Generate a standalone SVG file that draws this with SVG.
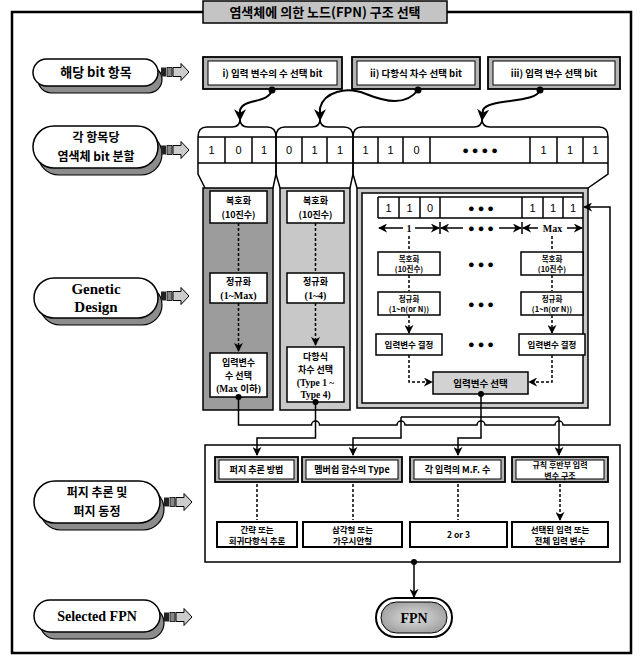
<svg xmlns="http://www.w3.org/2000/svg" width="640" height="657" viewBox="0 0 640 657">
<style>
.k{font-family:"Noto Sans CJK KR","Noto Sans",sans-serif;font-weight:bold;text-anchor:middle;fill:#000}
.s{font-family:"Liberation Serif","Noto Sans CJK KR",serif;font-weight:bold;text-anchor:middle;fill:#000}
.n{font-family:"Liberation Sans",Arial,sans-serif;text-anchor:middle;font-size:11px;fill:#000}
.ln{fill:none;stroke:#000;stroke-width:1.5}
.cv{fill:none;stroke:#000;stroke-width:2}
.dash{fill:none;stroke:#000;stroke-width:1.5;stroke-dasharray:3,2}
.box{fill:#fff;stroke:#000;stroke-width:1.5}
.pill{fill:#fff;stroke:#000;stroke-width:1.5}
.shd{fill:#8c8c8c;stroke:#000;stroke-width:1.2}
.gb{fill:#b4b4b4;stroke:#000;stroke-width:1.8}
.wb{fill:#fff;stroke:#000;stroke-width:1}
.dot{fill:#000}
</style>
<defs>
<marker id="ah" markerUnits="userSpaceOnUse" markerWidth="9" markerHeight="9" viewBox="0 0 10 10" refX="9" refY="5" orient="auto"><path d="M0,0 L10,5 L0,10 L3,5 z" fill="#000"/></marker>
<marker id="ahb" markerUnits="userSpaceOnUse" markerWidth="12" markerHeight="12" viewBox="0 0 10 10" refX="9" refY="5" orient="auto"><path d="M0,0 L10,5 L0,10 L3,5 z" fill="#000"/></marker>
<radialGradient id="fpng" cx="0.5" cy="0.5" r="0.6"><stop offset="0" stop-color="#e0e0e0"/><stop offset="1" stop-color="#9a9a9a"/></radialGradient>
<g id="parr">
<rect x="0" y="-4.5" width="5" height="9" fill="#222"/>
<rect x="6" y="-4.5" width="5" height="9" fill="#888" stroke="#000" stroke-width="0.8"/>
<polygon points="12,-4.5 20,-4.5 20,-8.5 28,0 20,8.5 20,4.5 12,4.5" fill="#ccc" stroke="#000" stroke-width="1"/>
</g>
</defs>
<rect width="640" height="657" fill="#fff"/>

<g id="frame">
<path d="M203,12 H12 V653 H631 V12 H447" fill="none" stroke="#000" stroke-width="2.5"/>
</g>
<g id="title">
<rect x="203" y="1" width="244" height="22" fill="#c4c4c4" stroke="#000" stroke-width="1.5"/>
<text class="k" x="325" y="17" font-size="13">염색체에 의한 노드(FPN) 구조 선택</text>
</g>

<g id="label1">
<rect class="shd" x="38" y="66" width="124" height="27" rx="13.5"/>
<rect class="pill" x="33" y="59" width="125" height="27" rx="13.5"/>
<text class="k" x="96" y="77" font-size="13">해당 bit 항목</text>
<use href="#parr" x="161" y="72"/>
</g>
<g id="label2">
<rect class="shd" x="38" y="133" width="124" height="42" rx="21"/>
<rect class="pill" x="33" y="126" width="125" height="42" rx="21"/>
<text class="k" x="96" y="142" font-size="12">각 항목당</text>
<text class="k" x="96" y="160.5" font-size="12">염색체 bit 분할</text>
<use href="#parr" x="161" y="150"/>
</g>
<g id="label3">
<rect class="shd" x="40" y="285" width="122" height="40" rx="20"/>
<rect class="pill" x="34" y="278" width="124" height="40" rx="20"/>
<text class="s" x="96" y="294" font-size="15">Genetic</text>
<text class="s" x="96" y="312" font-size="15">Design</text>
<use href="#parr" x="161" y="296"/>
</g>
<g id="label4">
<rect class="shd" x="40" y="488" width="124" height="42" rx="21"/>
<rect class="pill" x="34" y="481" width="126" height="42" rx="21"/>
<text class="k" x="97" y="497" font-size="12">퍼지 추론 및</text>
<text class="k" x="97" y="515.5" font-size="12">퍼지 동정</text>
<use href="#parr" x="164" y="502"/>
</g>
<g id="label5">
<rect class="shd" x="40" y="607" width="124" height="32" rx="16"/>
<rect class="pill" x="34" y="600" width="126" height="32" rx="16"/>
<text class="s" x="97" y="621" font-size="14">Selected FPN</text>
<use href="#parr" x="164" y="617"/>
</g>

<g id="bit-items">
<rect class="gb" x="203" y="57" width="139" height="32"/>
<rect class="wb" x="208" y="61" width="129" height="24"/>
<text class="k" x="272.5" y="77" font-size="9.5">i) 입력 변수의 수 선택 bit</text>
<rect class="gb" x="352" y="57" width="128" height="32"/>
<rect class="wb" x="357" y="61" width="118" height="24"/>
<text class="k" x="416" y="77" font-size="9.5">ii) 다항식 차수 선택 bit</text>
<rect class="gb" x="488" y="57" width="132" height="32"/>
<rect class="wb" x="493" y="61" width="122" height="24"/>
<text class="k" x="554" y="77" font-size="9.5">iii) 입력 변수 선택 bit</text>
</g>

<g id="bit-row">
<path class="ln" d="M205,188 L198,174 V137 Q198,127 207,127 H232 Q240,127 240,119 Q240,127 248,127 H267 Q276,127 276,137 V174 L273,188"/>
<path class="ln" d="M280,188 L276,174 V137 Q276,127 285,127 H312 Q320,127 320,119 Q320,127 328,127 H344 Q353,127 353,137 V174 L350,188"/>
<path class="ln" d="M357,188 L353,174 V137 Q353,127 362,127 H474 Q482,127 482,119 Q482,127 490,127 H599 Q608,127 608,137 V174 L588,188"/>
<path class="ln" d="M198,137 H608 M198,163 H608 M225,137 V163 M252,137 V163 M302,137 V163 M327,137 V163 M378,137 V163 M403,137 V163 M430,137 V163 M530,137 V163 M557,137 V163 M583,137 V163"/>
<text class="n" x="211.5" y="154">1</text><text class="n" x="238.5" y="154">0</text><text class="n" x="264" y="154">1</text>
<text class="n" x="289" y="154">0</text><text class="n" x="314.5" y="154">1</text><text class="n" x="340" y="154">1</text>
<text class="n" x="365.5" y="154">1</text><text class="n" x="390.5" y="154">1</text><text class="n" x="416.5" y="154">0</text>
<text class="n" x="480" y="154" font-weight="bold">● ● ● ●</text>
<text class="n" x="543.5" y="154">1</text><text class="n" x="570" y="154">1</text><text class="n" x="595.5" y="154">1</text>
</g>

<g id="col-input-count">
<rect x="203" y="188" width="70" height="222" fill="#9c9c9c" stroke="#000" stroke-width="1.5"/>
<rect class="box" x="210" y="191" width="57" height="32"/>
<text class="k" x="238.5" y="204" font-size="9">복호화</text>
<text class="k" x="238.5" y="218" font-size="9">(10진수)</text>
<rect class="box" x="210" y="273" width="57" height="30"/>
<text class="k" x="238.5" y="285" font-size="9">정규화</text>
<text class="s" x="238.5" y="299" font-size="10">(1~Max)</text>
<rect class="box" x="210" y="353" width="57" height="44"/>
<text class="k" x="238.5" y="366" font-size="9">입력변수</text>
<text class="k" x="238.5" y="379" font-size="9">수 선택</text>
<text class="s" x="238.5" y="392" font-size="9.5">(Max 이하)</text>
</g>
<g id="col-poly-order">
<rect x="280" y="188" width="70" height="222" fill="#c8c8c8" stroke="#000" stroke-width="1.5"/>
<rect class="box" x="287" y="191" width="57" height="32"/>
<text class="k" x="315.5" y="204" font-size="9">복호화</text>
<text class="k" x="315.5" y="218" font-size="9">(10진수)</text>
<rect class="box" x="287" y="273" width="57" height="30"/>
<text class="k" x="315.5" y="285" font-size="9">정규화</text>
<text class="s" x="315.5" y="299" font-size="10">(1~4)</text>
<rect class="box" x="287" y="347" width="57" height="55"/>
<text class="k" x="315.5" y="360" font-size="9">다항식</text>
<text class="k" x="315.5" y="373" font-size="9">차수 선택</text>
<text class="s" x="315.5" y="386" font-size="9.5">(Type 1 ~</text>
<text class="s" x="315.5" y="398" font-size="9.5">Type 4)</text>
</g>

<g id="panel-input-select">
<rect x="357" y="188" width="231" height="220" fill="#c8c8c8" stroke="#000" stroke-width="1.5"/>
<rect class="box" x="362" y="193" width="221" height="210"/>
<path class="ln" d="M378,197 H583 M378,218 H583 M378,197 V218 M399,197 V218 M420,197 V218 M440,197 V218 M522,197 V218 M543,197 V218 M563,197 V218"/>
<text class="n" x="388.5" y="212" font-size="12">1</text><text class="n" x="409.5" y="212" font-size="12">1</text><text class="n" x="430" y="212" font-size="12">0</text>
<text class="n" x="481" y="212" font-weight="bold">● ● ●</text>
<text class="n" x="532.5" y="212" font-size="12">1</text><text class="n" x="553" y="212" font-size="12">1</text><text class="n" x="573" y="212" font-size="12">1</text>
<path class="ln" d="M440,222 V234 M522,222 V234"/>
<path class="ln" marker-end="url(#ah)" d="M403,228 H379"/>
<path class="ln" marker-end="url(#ah)" d="M415,228 H439"/>
<text class="s" x="409" y="232" font-size="10">1</text>
<path class="ln" marker-end="url(#ah)" d="M463,228 H441"/>
<path class="ln" marker-end="url(#ah)" d="M499,228 H521"/>
<text class="n" x="481" y="232" font-weight="bold">● ● ●</text>
<path class="ln" marker-end="url(#ah)" d="M538,228 H523"/>
<path class="ln" marker-end="url(#ah)" d="M567,228 H582"/>
<text class="s" x="552.5" y="232" font-size="10">Max</text>
<path class="dash" marker-end="url(#ah)" d="M409,236 V251 M409,275 V291 M409,315 V333"/>
<path class="dash" marker-end="url(#ah)" d="M552,236 V251 M552,275 V291 M552,315 V333"/>
<rect class="box" x="378" y="252" width="62" height="23"/>
<text class="k" x="409" y="261.5" font-size="7.5">복호화</text>
<text class="k" x="409" y="272" font-size="7.5">(10진수)</text>
<rect class="box" x="378" y="292" width="62" height="23"/>
<text class="k" x="409" y="301.5" font-size="7.5">정규화</text>
<text class="k" x="409" y="312" font-size="7.5">(1~n(or N))</text>
<rect class="box" x="376" y="334" width="66" height="21"/>
<text class="k" x="409" y="348" font-size="8.5">입력변수 결정</text>
<rect class="box" x="521" y="252" width="62" height="23"/>
<text class="k" x="552" y="261.5" font-size="7.5">복호화</text>
<text class="k" x="552" y="272" font-size="7.5">(10진수)</text>
<rect class="box" x="521" y="292" width="62" height="23"/>
<text class="k" x="552" y="301.5" font-size="7.5">정규화</text>
<text class="k" x="552" y="312" font-size="7.5">(1~n(or N))</text>
<rect class="box" x="519" y="334" width="66" height="21"/>
<text class="k" x="552" y="348" font-size="8.5">입력변수 결정</text>
<text class="n" x="481" y="268" font-weight="bold">● ● ●</text>
<text class="n" x="481" y="308" font-weight="bold">● ● ●</text>
<text class="n" x="481" y="348" font-weight="bold">● ● ●</text>
<path class="dash" marker-end="url(#ah)" d="M409,355 V382 H432"/>
<path class="dash" marker-end="url(#ah)" d="M552,355 V382 H529"/>
<rect x="433" y="372" width="95" height="22" fill="#d2d2d2" stroke="#000" stroke-width="1.5"/>
<text class="k" x="480.5" y="387" font-size="9.5">입력변수 선택</text>
</g>

<g id="fuzzy-panel">
<rect class="box" x="205" y="445" width="415" height="117"/>
<rect class="gb" x="215" y="457" width="83" height="25"/>
<rect class="wb" x="219" y="460" width="75" height="19"/>
<text class="k" x="256.5" y="473" font-size="9">퍼지 추론 방법</text>
<rect class="gb" x="302" y="457" width="100" height="25"/>
<rect class="wb" x="306" y="460" width="92" height="19"/>
<text class="k" x="352" y="473" font-size="9">멤버쉽 함수의 Type</text>
<rect class="gb" x="410" y="457" width="95" height="25"/>
<rect class="wb" x="414" y="460" width="87" height="19"/>
<text class="k" x="457.5" y="473" font-size="9">각 입력의 M.F. 수</text>
<rect class="gb" x="512" y="457" width="96" height="25"/>
<rect class="wb" x="516" y="460" width="88" height="19"/>
<text class="k" x="560" y="468" font-size="8">규칙 후반부 입력</text>
<text class="k" x="560" y="478.5" font-size="8">변수 구조</text>
<path class="dash" marker-end="url(#ah)" d="M257,484 V520 M353,484 V520 M458,484 V520 M560,484 V520"/>
<rect x="217" y="522" width="80" height="25" fill="#fff" stroke="#000" stroke-width="2"/>
<text class="k" x="257" y="532.5" font-size="8.5">간략 또는</text>
<text class="k" x="257" y="543.5" font-size="8.5">회귀다항식 추론</text>
<rect x="303" y="522" width="99" height="25" fill="#fff" stroke="#000" stroke-width="2"/>
<text class="k" x="352.5" y="532.5" font-size="8.5">삼각형 또는</text>
<text class="k" x="352.5" y="543.5" font-size="8.5">가우시안형</text>
<rect x="410" y="522" width="97" height="25" fill="#fff" stroke="#000" stroke-width="2"/>
<text class="k" x="458.5" y="538" font-size="8.5">2 or 3</text>
<rect x="512" y="522" width="96" height="25" fill="#fff" stroke="#000" stroke-width="2"/>
<text class="k" x="560" y="532.5" font-size="8.5">선택된 입력 또는</text>
<text class="k" x="560" y="543.5" font-size="8.5">전체 입력 변수</text>
</g>

<g id="fpn">
<rect x="376" y="598" width="76" height="39" rx="19.5" fill="#fff" stroke="#000" stroke-width="2"/>
<rect x="381" y="602" width="66" height="31" rx="15.5" fill="url(#fpng)" stroke="#000" stroke-width="1"/>
<text class="s" x="414" y="623" font-size="14">FPN</text>
</g>

<g id="connectors">
<path class="cv" marker-end="url(#ahb)" d="M272,90 C268,104 244,98 240,110 L240,120"/>
<path class="cv" marker-end="url(#ahb)" d="M418,90 C406,106 386,102 366,94 C346,86 324,92 320,108 L320,120"/>
<path class="cv" marker-end="url(#ahb)" d="M540,90 C536,104 488,98 483,110 L482,120"/>
<path class="dash" marker-end="url(#ah)" d="M238.5,223 V271 M238.5,303 V351"/>
<path class="dash" marker-end="url(#ah)" d="M315.5,223 V271 M315.5,303 V345"/>
<path class="ln" marker-end="url(#ah)" d="M238.5,397 V425 H311.5 a4,4 0 0 1 8,0 H397 a4,4 0 0 1 8,0 H477 a4,4 0 0 1 8,0 H555 a4,4 0 0 1 8,0 H610 V207 H584"/>
<path class="ln" marker-end="url(#ah)" d="M315.5,402 V438 H257 V455"/>
<path class="ln" d="M481,394 V417 M401,417 H559"/>
<path class="ln" marker-end="url(#ah)" d="M401,417 V438 H353 V455"/>
<path class="ln" marker-end="url(#ah)" d="M481,417 V438 H458 V455"/>
<path class="ln" marker-end="url(#ah)" d="M559,417 V455"/>
<path class="ln" marker-end="url(#ah)" d="M414,562 V597"/>
<circle class="dot" cx="272" cy="90" r="3.5"/>
<circle class="dot" cx="418" cy="90" r="3.5"/>
<circle class="dot" cx="540" cy="90" r="3.5"/>
<circle class="dot" cx="238.5" cy="397" r="3"/>
<circle class="dot" cx="315.5" cy="402" r="3"/>
<circle class="dot" cx="481" cy="394" r="3"/>
<circle class="dot" cx="414" cy="562" r="3"/>
</g>
</svg>
